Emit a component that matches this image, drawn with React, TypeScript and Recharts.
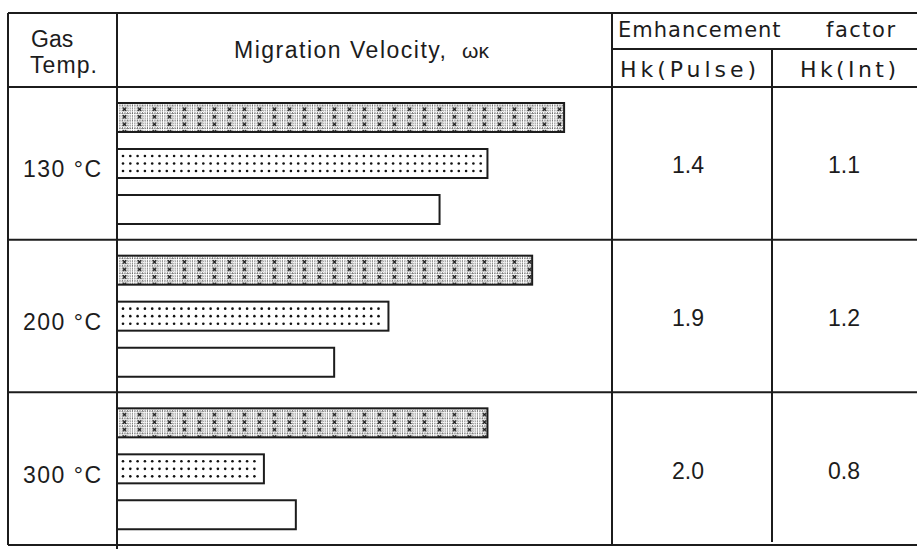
import { BarChart, Bar, XAxis, YAxis } from "recharts";

// values (migration velocity, relative units)
const temps = ["130 °C", "200 °C", "300 °C"];
const pulse = [14.0, 13.0, 11.6];
const intermittent = [11.6, 8.5, 4.6];
const dc = [10.1, 6.8, 5.6];
const hkPulse = [1.4, 1.9, 2.0];
const hkInt = [1.1, 1.2, 0.8];

const data = temps.map((temp, i) => ({
  temp,
  pulse: pulse[i],
  intermittent: intermittent[i],
  dc: dc[i],
}));

// table frame
const W = 917;
const H = 549;
const TOP = 13;
const HEAD_SPLIT = 49;
const HEAD_BOTTOM = 87;
const BOTTOM = 545;
const X0 = 8;
const X1 = 117;
const X2 = 612;
const X3 = 772;

const INK = "#1c1c1c";
const sans = "'Liberation Sans', Arial, sans-serif";
const wide = "'DejaVu Sans', Verdana, sans-serif";

const TempTick = (props: any) => {
  const { y, payload } = props;
  return (
    <text
      x={23}
      y={y + 14}
      fontFamily={sans}
      fontSize={23}
      fill={INK}
      textLength={78}
      lengthAdjust="spacing"
    >
      {payload.value}
    </text>
  );
};

const HkTick = (props: any) => {
  const { y, payload } = props;
  const i = temps.indexOf(payload.value);
  return (
    <g fontFamily={sans} fontSize={23} fill={INK} textAnchor="middle">
      <text x={688} y={y + 10}>
        {hkPulse[i].toFixed(1)}
      </text>
      <text x={844} y={y + 10}>
        {hkInt[i].toFixed(1)}
      </text>
    </g>
  );
};

// cross-hatched fill, tiled from the bar's own corner
const PulseBar = (props: any) => {
  const { x, y, width, height, index } = props;
  const id = `pulse-${index}`;
  return (
    <g>
      <defs>
        <pattern id={id} x={x} y={y + 2.5} width={15} height={7.5} patternUnits="userSpaceOnUse">
          <rect width={15} height={7.5} fill="#fff" />
          <g stroke="#5c5c5c" strokeWidth={0.75} strokeDasharray="1 1.2">
            {[0.5, 3, 5.5].map((v) => (
              <line key={`h${v}`} x1={0} y1={v} x2={15} y2={v} />
            ))}
            {[0.5, 3, 5.5, 8, 10.5, 13].map((v) => (
              <line key={`v${v}`} x1={v} y1={0} x2={v} y2={7.5} />
            ))}
          </g>
          <g stroke="#111" strokeWidth={1.3}>
            <line x1={5.8} y1={2} x2={9.2} y2={5.5} />
            <line x1={9.2} y1={2} x2={5.8} y2={5.5} />
          </g>
        </pattern>
      </defs>
      <rect x={x} y={y} width={width} height={height} fill={`url(#${id})`} stroke={INK} strokeWidth={2} />
    </g>
  );
};

// dotted fill, three rows of dots inside the bar
const IntBar = (props: any) => {
  const { x, y, width, height } = props;
  const dots: { cx: number; cy: number }[] = [];
  const rowsY = [0.24, 0.5, 0.76].map((f) => y + f * height);
  for (let cx = x + 6; cx < x + width - 3; cx += 7.3) {
    rowsY.forEach((cy) => dots.push({ cx, cy }));
  }
  return (
    <g>
      <rect x={x} y={y} width={width} height={height} fill="#fff" stroke={INK} strokeWidth={2} />
      {dots.map((d, k) => (
        <circle key={k} cx={d.cx} cy={d.cy} r={1.3} fill="#111" />
      ))}
    </g>
  );
};

const Frame = () => {
  const rowH = (BOTTOM - HEAD_BOTTOM) / 3;
  const rows = [1, 2].map((i) => HEAD_BOTTOM + i * rowH);
  return (
    <g stroke={INK} strokeWidth={2} fill="none">
      <line x1={X0} y1={TOP} x2={W} y2={TOP} />
      <line x1={X2} y1={HEAD_SPLIT} x2={W} y2={HEAD_SPLIT} />
      <line x1={X0} y1={HEAD_BOTTOM} x2={W} y2={HEAD_BOTTOM} />
      {rows.map((y) => (
        <line key={y} x1={X0} y1={y} x2={W} y2={y} />
      ))}
      <line x1={X0} y1={BOTTOM} x2={W} y2={BOTTOM} />
      <line x1={X0} y1={TOP} x2={X0} y2={BOTTOM} />
      <line x1={X1} y1={TOP} x2={X1} y2={H} />
      <line x1={X2} y1={TOP} x2={X2} y2={BOTTOM} />
      <line x1={X3} y1={HEAD_SPLIT} x2={X3} y2={BOTTOM - 3} />
    </g>
  );
};

const Header = () => (
  <g fill={INK}>
    <text x={31} y={47} fontFamily={sans} fontSize={23}>
      Gas
    </text>
    <text x={30} y={73} fontFamily={sans} fontSize={23} textLength={67} lengthAdjust="spacing">
      Temp.
    </text>
    <text x={234} y={58} fontFamily={sans} fontSize={23} textLength={212} lengthAdjust="spacing">
      Migration Velocity,
    </text>
    <text x={462} y={58} fontFamily={sans} fontSize={21}>
      ωκ
    </text>
    <text x={618} y={37} fontFamily={wide} fontSize={21} letterSpacing={1}>
      Emhancement
    </text>
    <text x={826} y={37} fontFamily={wide} fontSize={21} letterSpacing={1.5}>
      factor
    </text>
    <text x={620} y={77} fontFamily={wide} fontSize={22} textLength={136} lengthAdjust="spacing">
      Hk(Pulse)
    </text>
    <text x={800} y={77} fontFamily={wide} fontSize={22} textLength={96} lengthAdjust="spacing">
      Hk(Int)
    </text>
  </g>
);

export default function App() {
  return (
    <div style={{ position: "absolute", left: 0, top: 0, width: W, height: H, background: "#fff" }}>
      <BarChart
        width={W}
        height={H}
        data={data}
        layout="vertical"
        margin={{ top: HEAD_BOTTOM, right: 0, bottom: H - BOTTOM, left: X0 }}
        barSize={29}
        barGap={17}
      >
        <Frame />
        <Header />
        <XAxis type="number" domain={[0, 15.5]} hide />
        <YAxis
          yAxisId="left"
          type="category"
          dataKey="temp"
          width={X1 - X0}
          axisLine={false}
          tickLine={false}
          tick={TempTick}
        />
        <YAxis
          yAxisId="right"
          orientation="right"
          type="category"
          dataKey="temp"
          width={W - X2}
          axisLine={false}
          tickLine={false}
          tick={HkTick}
        />
        <Bar yAxisId="left" dataKey="pulse" shape={PulseBar} isAnimationActive={false} />
        <Bar yAxisId="left" dataKey="intermittent" shape={IntBar} isAnimationActive={false} />
        <Bar yAxisId="left" dataKey="dc" fill="#fff" stroke={INK} strokeWidth={2} isAnimationActive={false} />
      </BarChart>
    </div>
  );
}
